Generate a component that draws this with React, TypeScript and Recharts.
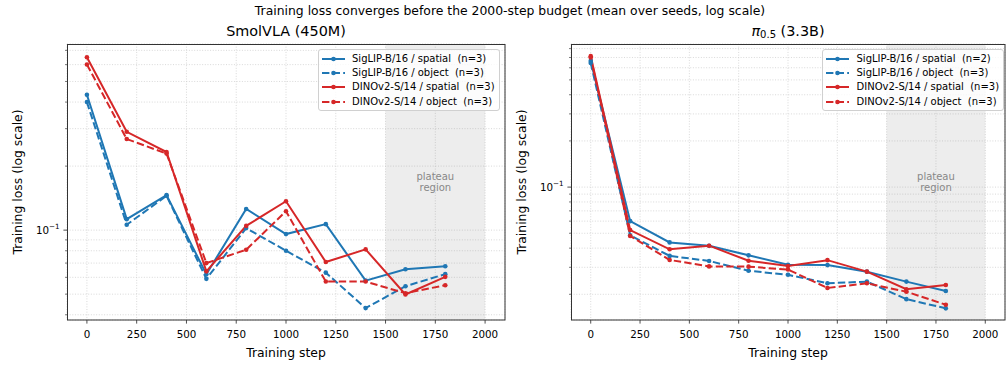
import React from 'react';
import { LineChart, Line, XAxis, YAxis, CartesianGrid, ReferenceArea, Legend } from 'recharts';

const FONT = '"DejaVu Sans", sans-serif';
const BLUE = '#1f77b4';
const RED = '#d62728';
const DASH = '7.4 3.2';

const STEPS = [0, 200, 400, 600, 800, 1000, 1200, 1400, 1600, 1800];
const X_TICKS = [0, 250, 500, 750, 1000, 1250, 1500, 1750, 2000];

// SmolVLA (450M)
const SMOL_SIGLIP_SPATIAL = [0.433, 0.1126, 0.146, 0.062, 0.1258, 0.0958, 0.1067, 0.0579, 0.0655, 0.0676];
const SMOL_SIGLIP_OBJECT = [0.4, 0.106, 0.145, 0.059, 0.1022, 0.08, 0.0631, 0.043, 0.0545, 0.0621];
const SMOL_DINO_SPATIAL = [0.65, 0.29, 0.233, 0.064, 0.1047, 0.1367, 0.0708, 0.0812, 0.0498, 0.0603];
const SMOL_DINO_OBJECT = [0.601, 0.268, 0.229, 0.07, 0.0809, 0.1227, 0.0573, 0.0573, 0.0505, 0.0551];

// pi0.5 (3.3B)
const PI_SIGLIP_SPATIAL = [0.665, 0.06, 0.0436, 0.0415, 0.0359, 0.0312, 0.031, 0.0281, 0.0242, 0.021];
const PI_SIGLIP_OBJECT = [0.645, 0.0485, 0.0356, 0.033, 0.0285, 0.0268, 0.0236, 0.0242, 0.0186, 0.0162];
const PI_DINO_SPATIAL = [0.714, 0.0525, 0.0393, 0.0415, 0.0331, 0.0306, 0.0334, 0.0281, 0.0216, 0.023];
const PI_DINO_OBJECT = [0.7, 0.048, 0.0335, 0.0304, 0.0303, 0.029, 0.022, 0.0236, 0.0208, 0.0171];

const SMOL_LABELS = [
  'SigLIP-B/16 / spatial  (n=3)',
  'SigLIP-B/16 / object  (n=3)',
  'DINOv2-S/14 / spatial  (n=3)',
  'DINOv2-S/14 / object  (n=3)',
];
const PI_LABELS = [
  'SigLIP-B/16 / spatial  (n=2)',
  'SigLIP-B/16 / object  (n=3)',
  'DINOv2-S/14 / spatial  (n=3)',
  'DINOv2-S/14 / object  (n=3)',
];

const SMOL_Y_TICKS = [0.04, 0.05, 0.06, 0.07, 0.08, 0.09, 0.1, 0.2, 0.3, 0.4, 0.5, 0.6, 0.7];
const PI_Y_TICKS = [0.02, 0.03, 0.04, 0.05, 0.06, 0.07, 0.08, 0.09, 0.1, 0.2, 0.3, 0.4, 0.5, 0.6, 0.7, 0.8];
const SMOL_Y_DOMAIN = [0.0378, 0.75];
const PI_Y_DOMAIN = [0.0136, 0.857];

const SERIES = [
  { key: 'siglipSpatial', color: BLUE, dash: undefined as string | undefined },
  { key: 'siglipObject', color: BLUE, dash: DASH },
  { key: 'dinoSpatial', color: RED, dash: undefined as string | undefined },
  { key: 'dinoObject', color: RED, dash: DASH },
];

function buildRows(a: number[], b: number[], c: number[], d: number[]) {
  return STEPS.map((s, i) => ({ step: s, siglipSpatial: a[i], siglipObject: b[i], dinoSpatial: c[i], dinoObject: d[i] }));
}

const SMOL_ROWS = buildRows(SMOL_SIGLIP_SPATIAL, SMOL_SIGLIP_OBJECT, SMOL_DINO_SPATIAL, SMOL_DINO_OBJECT);
const PI_ROWS = buildRows(PI_SIGLIP_SPATIAL, PI_SIGLIP_OBJECT, PI_DINO_SPATIAL, PI_DINO_OBJECT);

const YTick = (props: any) => {
  const { x, y, payload } = props;
  const v = payload.value;
  const major = Math.abs(v - 0.1) < 1e-9;
  return (
    <g>
      <line x1={x - (major ? 3.6 : 2)} x2={x} y1={y} y2={y} stroke="#222" strokeWidth={major ? 0.8 : 0.6} />
      {major && (
        <text x={x - 7.4} y={y + 3.8} textAnchor="end" fontSize={10.3} fontFamily={FONT} fill="#000">
          10<tspan fontSize={7.2} dy={-4.6}>−1</tspan>
        </text>
      )}
    </g>
  );
};

const PlateauLabel = (props: any) => {
  const vb = props.viewBox || { x: 0, y: 0, width: 0, height: 0 };
  const cx = vb.x + vb.width / 2;
  const cy = vb.y + vb.height / 2;
  return (
    <g>
      <text x={cx} y={cy - 5.2} textAnchor="middle" dominantBaseline="central" fontSize={10} fontFamily={FONT} fill="#888">plateau</text>
      <text x={cx} y={cy + 5.6} textAnchor="middle" dominantBaseline="central" fontSize={10} fontFamily={FONT} fill="#888">region</text>
    </g>
  );
};

const makeLegend = (labels: string[], width: number) => () => (
  <div
    style={{
      boxSizing: 'border-box',
      width,
      height: 62,
      border: '1px solid #d0d0d0',
      borderRadius: 3,
      background: 'rgba(255,255,255,0.8)',
      position: 'relative',
      fontFamily: FONT,
      fontSize: 10,
      color: '#000',
    }}
  >
    {SERIES.map((s, i) => (
      <div key={s.key} style={{ position: 'absolute', left: 0, top: 8.5 + i * 14.4 - 7, height: 14, display: 'flex', alignItems: 'center' }}>
        <svg width={30} height={14} style={{ display: 'block' }}>
          <line x1={3} x2={26} y1={7} y2={7} stroke={s.color} strokeWidth={2} strokeDasharray={s.dash} />
          <circle cx={14.5} cy={7} r={2.3} fill={s.color} />
        </svg>
        <span style={{ whiteSpace: 'pre', marginLeft: 3.5, lineHeight: '14px' }}>{labels[i]}</span>
      </div>
    ))}
  </div>
);

type PanelProps = {
  rows: any[];
  yTicks: number[];
  yDomain: number[];
  labels: string[];
  width: number;
  yAxisWidth: number;
  marginRight: number;
  legendLeft: number;
  legendWidth: number;
};

const Panel = ({ rows, yTicks, yDomain, labels, width, yAxisWidth, marginRight, legendLeft, legendWidth }: PanelProps) => (
  <LineChart width={width} height={366} data={rows} margin={{ top: 44, right: marginRight, bottom: 0, left: 0 }}>
    <CartesianGrid stroke="#cfcfcf" strokeWidth={0.8} strokeDasharray="1 1.65" />
    <ReferenceArea x1={1500} x2={2000} fill="#7f7f7f" fillOpacity={0.14} stroke="none" ifOverflow="visible" label={<PlateauLabel />} />
    <XAxis
      dataKey="step"
      type="number"
      domain={[-100, 2100]}
      ticks={X_TICKS}
      interval={0}
      allowDataOverflow
      height={46}
      axisLine={false}
      tickSize={3.6}
      tickMargin={7}
      tickLine={{ stroke: '#222', strokeWidth: 0.8 }}
      tick={{ fontSize: 10.3, fontFamily: FONT, fill: '#000' }}
    />
    <YAxis
      type="number"
      scale="log"
      domain={yDomain}
      ticks={yTicks}
      interval={0}
      allowDataOverflow
      width={yAxisWidth}
      axisLine={false}
      tickLine={false}
      tickSize={0}
      tickMargin={0}
      tick={<YTick />}
    />
    <Legend
      layout="horizontal"
      verticalAlign="middle"
      align="center"
      content={makeLegend(labels, legendWidth)}
      wrapperStyle={{ position: 'absolute', top: 49, left: legendLeft, width: legendWidth, height: 62, margin: 0 }}
    />
    {SERIES.map((s) => (
      <Line
        key={s.key}
        dataKey={s.key}
        type="linear"
        stroke={s.color}
        strokeWidth={2}
        strokeDasharray={s.dash}
        dot={{ r: 2.3, fill: s.color, stroke: 'none', strokeWidth: 0, strokeDasharray: 'none' }}
        activeDot={false}
        isAnimationActive={false}
      />
    ))}
  </LineChart>
);

export default function App() {
  return (
    <div style={{ position: 'absolute', left: 0, top: 0, width: 1006, height: 366, background: '#fff', overflow: 'hidden' }}>
      <div style={{ position: 'absolute', left: 0, top: 0 }}>
        <Panel
          rows={SMOL_ROWS}
          yTicks={SMOL_Y_TICKS}
          yDomain={SMOL_Y_DOMAIN}
          labels={SMOL_LABELS}
          width={515}
          yAxisWidth={67}
          marginRight={10}
          legendLeft={317.5}
          legendWidth={182.5}
        />
      </div>
      <div style={{ position: 'absolute', left: 506, top: 0 }}>
        <Panel
          rows={PI_ROWS}
          yTicks={PI_Y_TICKS}
          yDomain={PI_Y_DOMAIN}
          labels={PI_LABELS}
          width={500}
          yAxisWidth={65}
          marginRight={1}
          legendLeft={316}
          legendWidth={181.5}
        />
      </div>
      <svg width={1006} height={366} style={{ position: 'absolute', left: 0, top: 0, pointerEvents: 'none' }}>
        <rect x={67.5} y={44.5} width={437.5} height={275.5} fill="none" stroke="#333" strokeWidth={1} />
        <rect x={571.5} y={44.5} width={433.5} height={275.5} fill="none" stroke="#333" strokeWidth={1} />
        <text x={510} y={10} textAnchor="middle" dominantBaseline="central" fontSize={12.4} fontFamily={FONT} fill="#000">
          Training loss converges before the 2000-step budget (mean over seeds, log scale)
        </text>
        <text x={286} y={31} textAnchor="middle" dominantBaseline="central" fontSize={14.4} fontFamily={FONT} fill="#000">
          SmolVLA (450M)
        </text>
        <text x={788} y={31} textAnchor="middle" dominantBaseline="central" fontSize={14.4} fontFamily={FONT} fill="#000">
          <tspan fontStyle="italic">π</tspan>
          <tspan fontSize={10} dy={3}>0.5</tspan>
          <tspan dy={-3}> (3.3B)</tspan>
        </text>
        <text x={286} y={352} textAnchor="middle" dominantBaseline="central" fontSize={12.4} fontFamily={FONT} fill="#000">
          Training step
        </text>
        <text x={788} y={352} textAnchor="middle" dominantBaseline="central" fontSize={12.4} fontFamily={FONT} fill="#000">
          Training step
        </text>
        <text x={17.5} y={182} textAnchor="middle" dominantBaseline="central" fontSize={12.4} fontFamily={FONT} fill="#000" transform="rotate(-90 17.5 182)">
          Training loss (log scale)
        </text>
        <text x={521} y={182} textAnchor="middle" dominantBaseline="central" fontSize={12.4} fontFamily={FONT} fill="#000" transform="rotate(-90 521 182)">
          Training loss (log scale)
        </text>
      </svg>
    </div>
  );
}
